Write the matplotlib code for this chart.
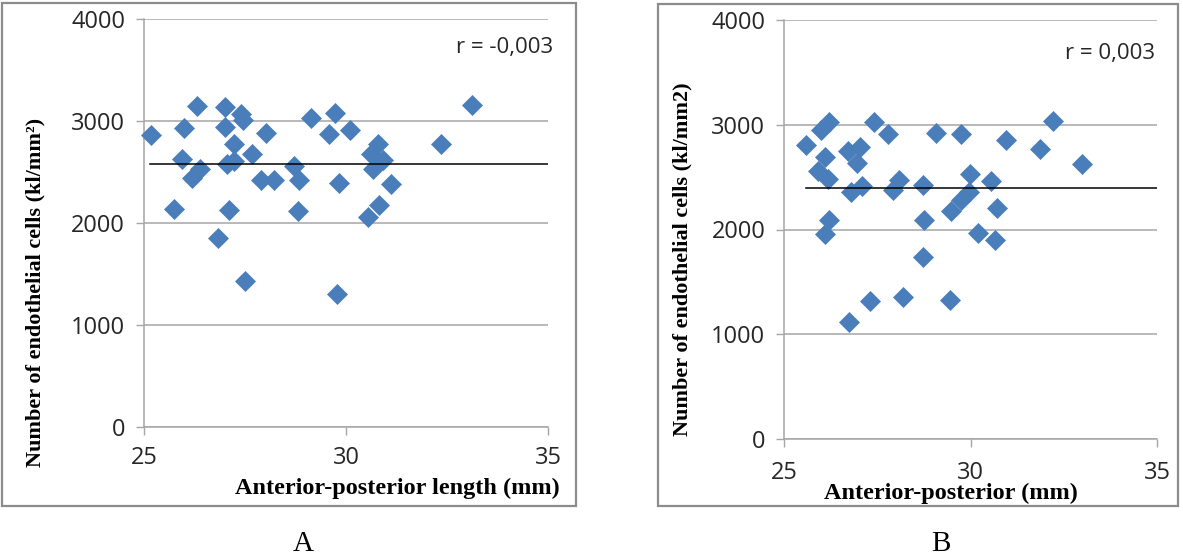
import matplotlib
matplotlib.use('Agg')
import matplotlib.pyplot as plt
from matplotlib.patches import Rectangle

# panel A: anterior-posterior length vs endothelial cell count
a_length = [25.17, 25.75, 25.98, 25.94, 26.31, 26.19, 26.39, 27.01, 27.00, 27.40,
            27.45, 27.24, 27.06, 27.24, 27.68, 28.01, 27.90, 28.23, 28.72, 28.84,
            29.13, 29.73, 29.57, 30.10, 29.82, 30.79, 30.62, 30.91, 30.66, 31.12,
            30.81, 30.54, 27.11, 28.82, 26.82, 27.50, 29.78, 32.36, 33.11]
a_cells = [2863, 2137, 2935, 2625, 3147, 2446, 2528, 3137, 2945, 3065,
           3010, 2772, 2583, 2609, 2681, 2886, 2423, 2423, 2560, 2424,
           3033, 3075, 2870, 2909, 2391, 2772, 2681, 2619, 2528, 2381,
           2179, 2062, 2127, 2114, 1854, 1427, 1306, 2772, 3156]
a_mean = 2580
a_mean_from = 25.15
a_r = 'r = -0,003'

# panel B
b_length = [25.58, 25.99, 26.21, 26.10, 25.90, 26.19, 26.72, 27.05, 26.96, 27.40,
            27.80, 26.80, 27.10, 27.91, 28.09, 28.72, 28.76, 28.72, 29.07, 29.74,
            29.99, 29.48, 29.74, 29.97, 26.10, 26.21, 26.74, 27.30, 28.18, 29.46,
            30.96, 32.20, 31.87, 33.00, 30.56, 30.72, 30.20, 30.66]
b_cells = [2805, 2949, 3022, 2693, 2556, 2486, 2751, 2789, 2636, 3029,
           2907, 2358, 2415, 2374, 2476, 2422, 2093, 1735, 2923, 2911,
           2527, 2176, 2278, 2358, 1958, 2093, 1121, 1319, 1351, 1326,
           2853, 3038, 2770, 2623, 2463, 2208, 1965, 1904]
b_mean = 2398
b_mean_from = 25.6
b_r = 'r = 0,003'

x_ticks = [25, 30, 35]
y_ticks = [0, 1000, 2000, 3000, 4000]

W, H = 1183, 559
BLUE = '#4a7ebb'
GRID = '#a6a6a6'
TICK_FONT = 'Open Sans'
SERIF = 'Liberation Serif'

fig = plt.figure(figsize=(W / 100, H / 100), dpi=100)


def px_axes(left, top, right, bottom):
    return fig.add_axes([left / W, 1 - bottom / H, (right - left) / W, (bottom - top) / H])


def fig_xy(x, y):
    return x / W, 1 - y / H


def frame(left, top, right, bottom):
    x0, y0 = fig_xy(left, bottom)
    fig.patches.append(Rectangle((x0, y0), (right - left) / W, (bottom - top) / H,
                                 transform=fig.transFigure, fill=False,
                                 edgecolor='#8c8c8c', linewidth=1.6))


def panel(ax, xs, ys, mean, mean_from, r_text, r_xy):
    ax.set_xlim(25, 35)
    ax.set_ylim(0, 4000)
    ax.set_xticks(x_ticks)
    ax.set_yticks(y_ticks)
    ax.grid(axis='y', color=GRID, linewidth=1.1)
    ax.set_axisbelow(True)
    for s in ['top', 'right']:
        ax.spines[s].set_visible(False)
    for s in ['left', 'bottom']:
        ax.spines[s].set_color(GRID)
        ax.spines[s].set_linewidth(1.1)
    ax.tick_params(direction='out', length=5.5, width=1, color=GRID,
                   labelsize=17, labelcolor='#262626', pad=8)
    for lab in ax.get_xticklabels() + ax.get_yticklabels():
        lab.set_fontfamily(TICK_FONT)
    ax.plot(xs, ys, 'D', color=BLUE, markersize=10.5, markeredgewidth=0.5,
            markeredgecolor=BLUE, clip_on=False, zorder=3)
    ax.plot([mean_from, 35], [mean, mean], color='black', linewidth=1.1, zorder=4)
    fig.text(*fig_xy(*r_xy), r_text, ha='right', va='center',
             fontsize=16, family=TICK_FONT, color='#262626')


frame(2, 3, 576, 506)
frame(658, 4, 1178, 506)

ax_a = px_axes(144, 19, 548, 427)
panel(ax_a, a_length, a_cells, a_mean, a_mean_from, a_r, (553, 47))

ax_b = px_axes(784, 20, 1157, 439)
panel(ax_b, b_length, b_cells, b_mean, b_mean_from, b_r, (1155, 53))
ax_b.tick_params(axis='x', pad=10)

fig.text(*fig_xy(397, 488), 'Anterior-posterior length (mm)', ha='center', va='center',
         fontsize=17.5, fontweight='bold', family=SERIF)
fig.text(*fig_xy(951, 493), 'Anterior-posterior (mm)', ha='center', va='center',
         fontsize=17.5, fontweight='bold', family=SERIF)
fig.text(*fig_xy(35, 292), 'Number of endothelial cells (kl/mm²)', ha='center', va='center',
         rotation=90, fontsize=16, fontweight='bold', family=SERIF)
fig.text(*fig_xy(682, 259), 'Number of endothelial cells (kl/mm2)', ha='center', va='center',
         rotation=90, fontsize=16, fontweight='bold', family=SERIF)

fig.text(*fig_xy(303, 544), 'A', ha='center', va='center', fontsize=21, family=SERIF)
fig.text(*fig_xy(941, 544), 'B', ha='center', va='center', fontsize=21, family=SERIF)

fig.savefig('out.png', dpi=100)
